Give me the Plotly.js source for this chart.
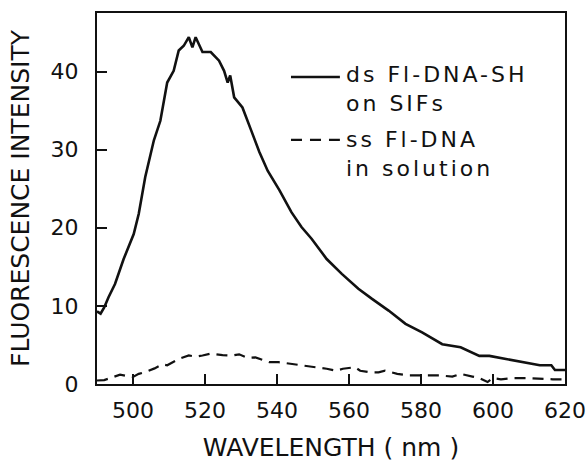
<!DOCTYPE html>
<html>
<head>
<meta charset="utf-8">
<script src="https://cdn.plot.ly/plotly-3.0.1.min.js"></script>
<style>
  html, body { margin: 0; padding: 0; background: #fff; }
  #chart { width: 587px; height: 462px; }
  .annotation-text { letter-spacing: 3px; }
</style>
</head>
<body>
<div id="chart"></div>
<script>
// Wavelength (nm) and fluorescence intensity
const wl_ds = [490, 491, 492, 493.2, 495, 497.4, 500.2, 501.6, 503.4, 505.8, 507.6, 509.5, 511.3, 512.7, 514.1, 515.5, 516.5, 517.4, 519.3, 521.6, 523.9, 525.3, 526.3, 527, 528.1, 530.4, 532.8, 535.1, 537.4, 540.7, 544, 546.8, 549.6, 553.8, 558, 562.6, 566.4, 569.2, 571, 575.7, 580.3, 585.9, 591, 596.2, 599, 603.6, 608.3, 613, 616.2, 617.2, 620];
const int_ds = [9.3, 9.0, 9.8, 11.1, 12.8, 16.0, 19.2, 21.8, 26.5, 31.2, 33.7, 38.6, 40.1, 42.7, 43.3, 44.4, 43.1, 44.4, 42.5, 42.5, 41.4, 40.1, 38.6, 39.5, 36.7, 35.4, 32.5, 29.7, 27.3, 24.8, 22.0, 20.1, 18.6, 16.0, 14.1, 12.2, 10.9, 10.0, 9.4, 7.7, 6.6, 5.1, 4.7, 3.6, 3.6, 3.2, 2.8, 2.4, 2.4, 1.8, 1.8];

const wl_ss = [490, 492, 494, 496.4, 498.5, 500, 501.6, 503.9, 506, 508.1, 509.5, 511, 512.7, 515.5, 517.5, 519.3, 521.6, 524.9, 527.7, 529.5, 531.8, 534, 537.9, 540.4, 543.5, 546.3, 550, 553.8, 556.4, 558.3, 561.7, 563.1, 565.9, 568.2, 570, 573.4, 576.6, 580.3, 585, 588.7, 591, 594.3, 596.2, 598.5, 599.9, 602.2, 605.4, 609.2, 612.9, 616.6, 620];
const int_ss = [0.45, 0.5, 0.8, 1.2, 1.0, 0.9, 1.3, 1.6, 2.0, 2.5, 2.4, 2.8, 3.2, 3.65, 3.5, 3.65, 3.9, 3.7, 3.65, 3.8, 3.35, 3.4, 2.8, 2.8, 2.6, 2.5, 2.25, 1.95, 1.7, 1.95, 2.15, 1.7, 1.5, 1.5, 1.7, 1.3, 1.1, 1.1, 1.1, 0.95, 1.3, 0.95, 0.75, 0.25, 0.75, 0.6, 0.75, 0.75, 0.65, 0.6, 0.6];

const xTicks = [500, 520, 540, 560, 580, 600, 620];
const yTicks = [0, 10, 20, 30, 40];
const label_ds = "ds Fl-DNA-SH<br>on SIFs";
const label_ss = "ss Fl-DNA<br>in solution";
const xTitle = "WAVELENGTH ( nm )";
const yTitle = "FLUORESCENCE INTENSITY";

const FONT = "DejaVu Sans, sans-serif";
const INK = "#111111";

const traces = [
  { x: wl_ds, y: int_ds, mode: "lines", name: "ds Fl-DNA-SH on SIFs",
    line: { color: INK, width: 2.6 }, showlegend: false },
  { x: wl_ss, y: int_ss, mode: "lines", name: "ss Fl-DNA in solution",
    line: { color: INK, width: 2.2, dash: "11px,7px" }, showlegend: false }
];

const axisCommon = {
  showgrid: false, zeroline: false,
  showline: true, linecolor: INK, linewidth: 2, mirror: true,
  ticks: "inside", ticklen: 10, tickwidth: 2, tickcolor: INK,
  tickfont: { family: FONT, size: 22, color: INK },
  tickmode: "array"
};

const layout = {
  width: 587, height: 462,
  margin: { l: 97, r: 22, t: 13, b: 78 },
  paper_bgcolor: "#ffffff", plot_bgcolor: "#ffffff",
  xaxis: Object.assign({}, axisCommon, {
    range: [490, 620], tickvals: xTicks, ticktext: xTicks.map(String),
    ticklabelstandoff: 6,
    title: { text: xTitle, font: { family: FONT, size: 25, color: INK }, standoff: 28 }
  }),
  yaxis: Object.assign({}, axisCommon, {
    range: [0, 47.5], tickvals: yTicks, ticktext: yTicks.map(String),
    ticklabelstandoff: 12,
    title: { text: yTitle, font: { family: FONT, size: 25, color: INK }, standoff: 14 }
  }),
  annotations: [
    { xref: "paper", yref: "paper", x: 0.528, y: 0.794, xanchor: "left", yanchor: "middle",
      text: label_ds, showarrow: false, align: "left",
      font: { family: FONT, size: 22, color: INK } },
    { xref: "paper", yref: "paper", x: 0.528, y: 0.621, xanchor: "left", yanchor: "middle",
      text: label_ss, showarrow: false, align: "left",
      font: { family: FONT, size: 22, color: INK } }
  ],
  shapes: [
    { type: "line", xref: "paper", yref: "paper", x0: 0.4145, x1: 0.519, y0: 0.8275, y1: 0.8275,
      line: { color: INK, width: 2.5 } },
    { type: "line", xref: "paper", yref: "paper", x0: 0.4145, x1: 0.519, y0: 0.658, y1: 0.658,
      line: { color: INK, width: 2.2, dash: "11px,8px" } }
  ],
  showlegend: false
};

Plotly.newPlot("chart", traces, layout, { staticPlot: true, displayModeBar: false });
</script>
</body>
</html>
